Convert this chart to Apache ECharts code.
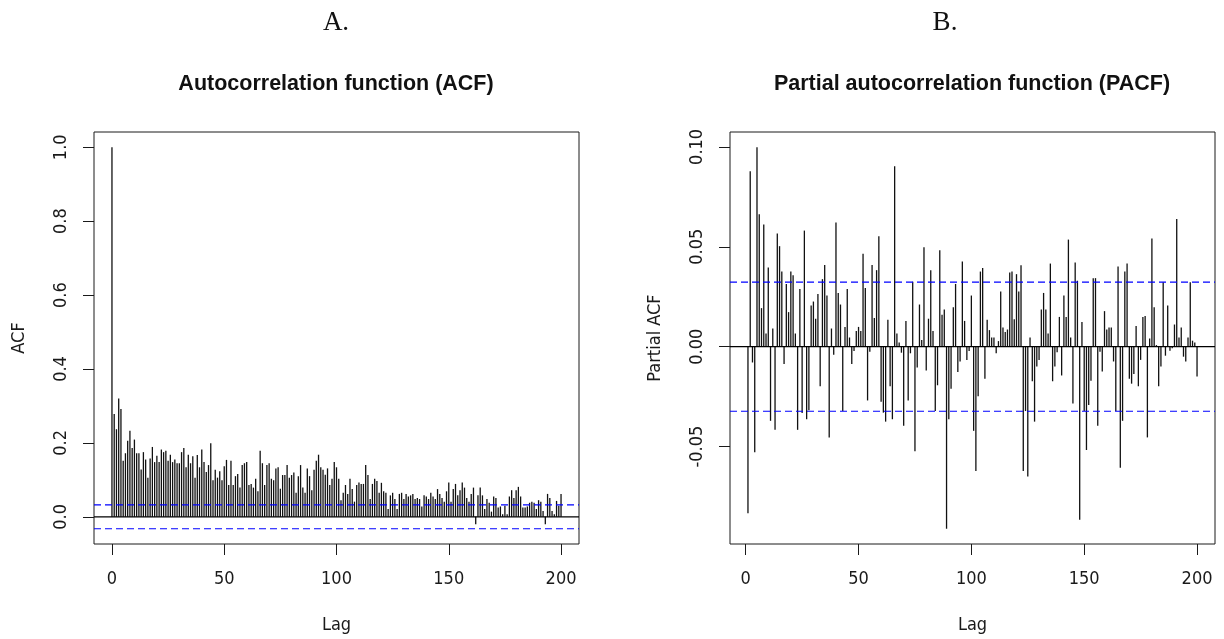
<!DOCTYPE html>
<html><head><meta charset="utf-8">
<script src="https://cdn.jsdelivr.net/npm/echarts@6/dist/echarts.min.js"></script>
<style>html,body{margin:0;padding:0;background:#fff}#c{width:1224px;height:639px}</style>
</head><body><div id="c"></div>
<script>
// ---------------- data ----------------
const acfStartLag = 0;
const acfValues = [
  1.0, 0.278, 0.237, 0.320, 0.292, 0.152, 0.172, 0.206, 0.233, 0.186,
  0.209, 0.172, 0.172, 0.128, 0.175, 0.155, 0.106, 0.158, 0.189, 0.148,
  0.165, 0.148, 0.182, 0.175, 0.179, 0.152, 0.168, 0.148, 0.155, 0.145,
  0.145, 0.175, 0.186, 0.134, 0.168, 0.145, 0.164, 0.106, 0.167, 0.134,
  0.182, 0.148, 0.121, 0.140, 0.199, 0.099, 0.127, 0.106, 0.123, 0.099,
  0.137, 0.154, 0.086, 0.152, 0.086, 0.110, 0.116, 0.079, 0.140, 0.145,
  0.148, 0.086, 0.089, 0.079, 0.103, 0.069, 0.179, 0.145, 0.086, 0.140,
  0.145, 0.103, 0.099, 0.131, 0.134, 0.076, 0.113, 0.113, 0.140, 0.106,
  0.113, 0.120, 0.065, 0.110, 0.140, 0.079, 0.065, 0.131, 0.110, 0.072,
  0.127, 0.152, 0.168, 0.134, 0.127, 0.114, 0.131, 0.086, 0.103, 0.148,
  0.134, 0.103, 0.045, 0.065, 0.086, 0.062, 0.103, 0.075, 0.041, 0.086,
  0.093, 0.089, 0.089, 0.140, 0.113, 0.048, 0.089, 0.103, 0.097, 0.065,
  0.092, 0.069, 0.065, 0.021, 0.058, 0.065, 0.048, 0.021, 0.062, 0.065,
  0.048, 0.062, 0.055, 0.058, 0.062, 0.048, 0.051, 0.048, 0.028, 0.058,
  0.055, 0.048, 0.065, 0.055, 0.048, 0.075, 0.062, 0.051, 0.041, 0.069,
  0.093, 0.041, 0.075, 0.089, 0.058, 0.072, 0.093, 0.079, 0.051, 0.041,
  0.062, 0.079, -0.020, 0.058, 0.079, 0.058, 0.021, 0.048, 0.038, 0.014,
  0.055, 0.051, 0.025, 0.028, 0.007, 0.030, 0.007, 0.055, 0.072, 0.051,
  0.072, 0.081, 0.055, 0.025, 0.025, 0.028, 0.038, 0.041, 0.038, 0.021,
  0.045, 0.041, 0.016, -0.020, 0.062, 0.051, 0.016, 0.007, 0.043, 0.030,
  0.062
];
const pacfStartLag = 1;
const pacfValues = [
  -0.0833, 0.0878, -0.0079, -0.0528, 0.0998, 0.0663, 0.0193, 0.0611, 0.0066, 0.0396,
  -0.0371, 0.0091, -0.0416, 0.0566, 0.0503, 0.0376, -0.0086, 0.0314, 0.0173, 0.0376,
  0.0358, 0.0066, -0.0416, 0.0289, -0.0332, 0.0581, -0.0363, -0.0318, 0.0206, 0.0226,
  0.0140, 0.0264, -0.0198, 0.0338, 0.0409, 0.0256, -0.0454, 0.0091, -0.0040, 0.0622,
  0.0269, 0.0211, -0.0322, 0.0099, 0.0289, 0.0046, -0.0086, -0.0021, 0.0079, 0.0099,
  0.0079, 0.0465, 0.0294, -0.0269, -0.0025, 0.0409, 0.0144, 0.0383, 0.0553, -0.0276,
  -0.0330, -0.0375, 0.0135, -0.0198, -0.0363, 0.0903, 0.0066, 0.0021, -0.0030, -0.0396,
  0.0129, -0.0269, -0.0033, 0.0325, -0.0523, -0.0104, 0.0211, 0.0033, 0.0498, -0.0119,
  0.0140, 0.0383, 0.0079, -0.0322, -0.0193, 0.0483, 0.0160, 0.0186, -0.0911, -0.0363,
  -0.0210, 0.0198, 0.0314, -0.0127, -0.0074, 0.0426, 0.0129, -0.0066, -0.0021, 0.0256,
  -0.0421, -0.0622, -0.0248, 0.0376, 0.0394, -0.0160, 0.0135, 0.0083, 0.0046, 0.0046,
  -0.0033, 0.0028, 0.0276, 0.0096, 0.0074, 0.0086, 0.0371, 0.0376, 0.0137, 0.0363,
  0.0276, 0.0408, -0.0622, -0.0322, -0.0649, 0.0046, -0.0173, -0.0375, -0.0099, -0.0066,
  0.0186, 0.0269, 0.0186, 0.0066, 0.0416, -0.0173, -0.0099, -0.0028, 0.0149, -0.0144,
  0.0256, 0.0149, 0.0536, 0.0046, -0.0284, 0.0421, 0.0330, -0.0866, 0.0124, -0.0322,
  -0.0517, -0.0292, -0.0170, 0.0343, 0.0343, -0.0396, -0.0025, -0.0124, 0.0178, 0.0086,
  0.0096, 0.0096, -0.0074, -0.0322, 0.0401, -0.0606, -0.0371, 0.0376, 0.0416, -0.0160,
  -0.0185, -0.0137, 0.0104, -0.0198, -0.0066, 0.0149, 0.0153, -0.0454, 0.0041, 0.0541,
  0.0198, 0.0008, -0.0198, -0.0099, 0.0322, -0.0045, 0.0206, -0.0020, -0.0008, 0.0111,
  0.0639, 0.0046, 0.0096, -0.0050, -0.0074, 0.0046, 0.0322, 0.0030, 0.0021, -0.0149
];
const confLimit = 0.0323;
const refLevels = [0, confLimit, -confLimit];
const lagTicks = [0, 50, 100, 150, 200];
const acfYTicks = [0.0, 0.2, 0.4, 0.6, 0.8, 1.0];
const pacfYTicks = [-0.05, 0.00, 0.05, 0.10];

// ---------------- helpers ----------------
const FONT = "'Liberation Sans Narrow', 'DejaVu Sans Condensed', 'Liberation Sans', sans-serif";
const ink = '#1a1a1a';
function extend(lo, hi) { const r = hi - lo; return [lo - 0.04 * r, hi + 0.04 * r]; }
function toPoints(start, vals) { return vals.map((v, i) => [start + i, v]); }

const acfPts = toPoints(acfStartLag, acfValues);
const pacfPts = toPoints(pacfStartLag, pacfValues);
const acfX = extend(acfStartLag, acfStartLag + acfValues.length - 1);
const pacfX = extend(pacfStartLag, pacfStartLag + pacfValues.length - 1);
const acfY = extend(Math.min(-confLimit, ...acfValues), Math.max(confLimit, ...acfValues));
const pacfY = extend(Math.min(-confLimit, ...pacfValues), Math.max(confLimit, ...pacfValues));

function xAxisOf(gi, range) {
  return {
    type: 'value', gridIndex: gi, min: range[0], max: range[1],
    axisLine: { show: false, onZero: false },
    axisTick: { show: true, length: 11, customValues: lagTicks, lineStyle: { color: ink, width: 1 } },
    axisLabel: { customValues: lagTicks, margin: 26, color: ink, fontFamily: FONT, fontSize: 18,
                 showMinLabel: true, showMaxLabel: true },
    splitLine: { show: false },
    name: 'Lag', nameLocation: 'middle', nameGap: 72,
    nameTextStyle: { color: ink, fontFamily: FONT, fontSize: 18 }
  };
}
function yAxisOf(gi, range, ticks, digits, name, labelMargin, nameGap) {
  return {
    type: 'value', gridIndex: gi, min: range[0], max: range[1],
    axisLine: { show: false, onZero: false },
    axisTick: { show: true, length: 11, customValues: ticks, lineStyle: { color: ink, width: 1 } },
    axisLabel: { customValues: ticks, rotate: 90, margin: labelMargin, color: ink, fontFamily: FONT, fontSize: 18,
                 formatter: v => Number(v).toFixed(digits) },
    splitLine: { show: false },
    name: name, nameLocation: 'middle', nameGap: nameGap, nameRotate: 90,
    nameTextStyle: { color: ink, fontFamily: FONT, fontSize: 18 }
  };
}
function spikeSeries(gi, pts) {
  return {
    type: 'custom', xAxisIndex: gi, yAxisIndex: gi, data: pts, silent: true, z: 3,
    renderItem: (params, api) => {
      const p0 = api.coord([api.value(0), 0]);
      const p1 = api.coord([api.value(0), api.value(1)]);
      return { type: 'line', shape: { x1: p0[0], y1: p0[1], x2: p1[0], y2: p1[1] },
               style: { stroke: '#111', lineWidth: 1.3 } };
    }
  };
}
// horizontal reference lines spanning the whole plot box (zero line solid, confidence limits dashed blue)
function refSeries(gi) {
  return {
    type: 'custom', xAxisIndex: gi, yAxisIndex: gi, data: refLevels.map(v => [v]), silent: true, z: 4,
    encode: { y: 0 },
    renderItem: (params, api) => {
      const cs = params.coordSys;
      const level = api.value(0);
      const y = api.coord([0, level])[1];
      const isZero = level === 0;
      return { type: 'line', shape: { x1: cs.x, y1: y, x2: cs.x + cs.width, y2: y },
               style: isZero ? { stroke: '#000', lineWidth: 1.2 }
                             : { stroke: '#0000ff', lineWidth: 1.2, lineDash: [7, 4] } };
    }
  };
}

const chart = echarts.init(document.getElementById('c'), null, { renderer: 'canvas' });
chart.setOption({
  animation: false,
  backgroundColor: '#fff',
  grid: [
    { left: 94, top: 132, width: 485, height: 415, show: true, borderColor: ink, borderWidth: 1, backgroundColor: 'transparent' },
    { left: 730, top: 132, width: 485, height: 415, show: true, borderColor: ink, borderWidth: 1, backgroundColor: 'transparent' }
  ],
  xAxis: [xAxisOf(0, acfX), xAxisOf(1, pacfX)],
  yAxis: [yAxisOf(0, acfY, acfYTicks, 1, 'ACF', 24, 66), yAxisOf(1, pacfY, pacfYTicks, 2, 'Partial ACF', 24, 66)],
  series: [spikeSeries(0, acfPts), refSeries(0), spikeSeries(1, pacfPts), refSeries(1)],
  graphic: [
    { type: 'text', x: 336, y: 23, style: { text: 'A.', font: "27px 'Liberation Serif', serif", fill: '#111', textAlign: 'center', textVerticalAlign: 'middle' } },
    { type: 'text', x: 945, y: 23, style: { text: 'B.', font: "27px 'Liberation Serif', serif", fill: '#111', textAlign: 'center', textVerticalAlign: 'middle' } },
    { type: 'text', x: 336, y: 84, style: { text: 'Autocorrelation function (ACF)', font: "bold 21.5px 'Liberation Sans', sans-serif", fill: '#111', textAlign: 'center', textVerticalAlign: 'middle' } },
    { type: 'text', x: 972, y: 84, style: { text: 'Partial autocorrelation function (PACF)', font: "bold 21.5px 'Liberation Sans', sans-serif", fill: '#111', textAlign: 'center', textVerticalAlign: 'middle' } }
  ]
});
</script></body></html>
